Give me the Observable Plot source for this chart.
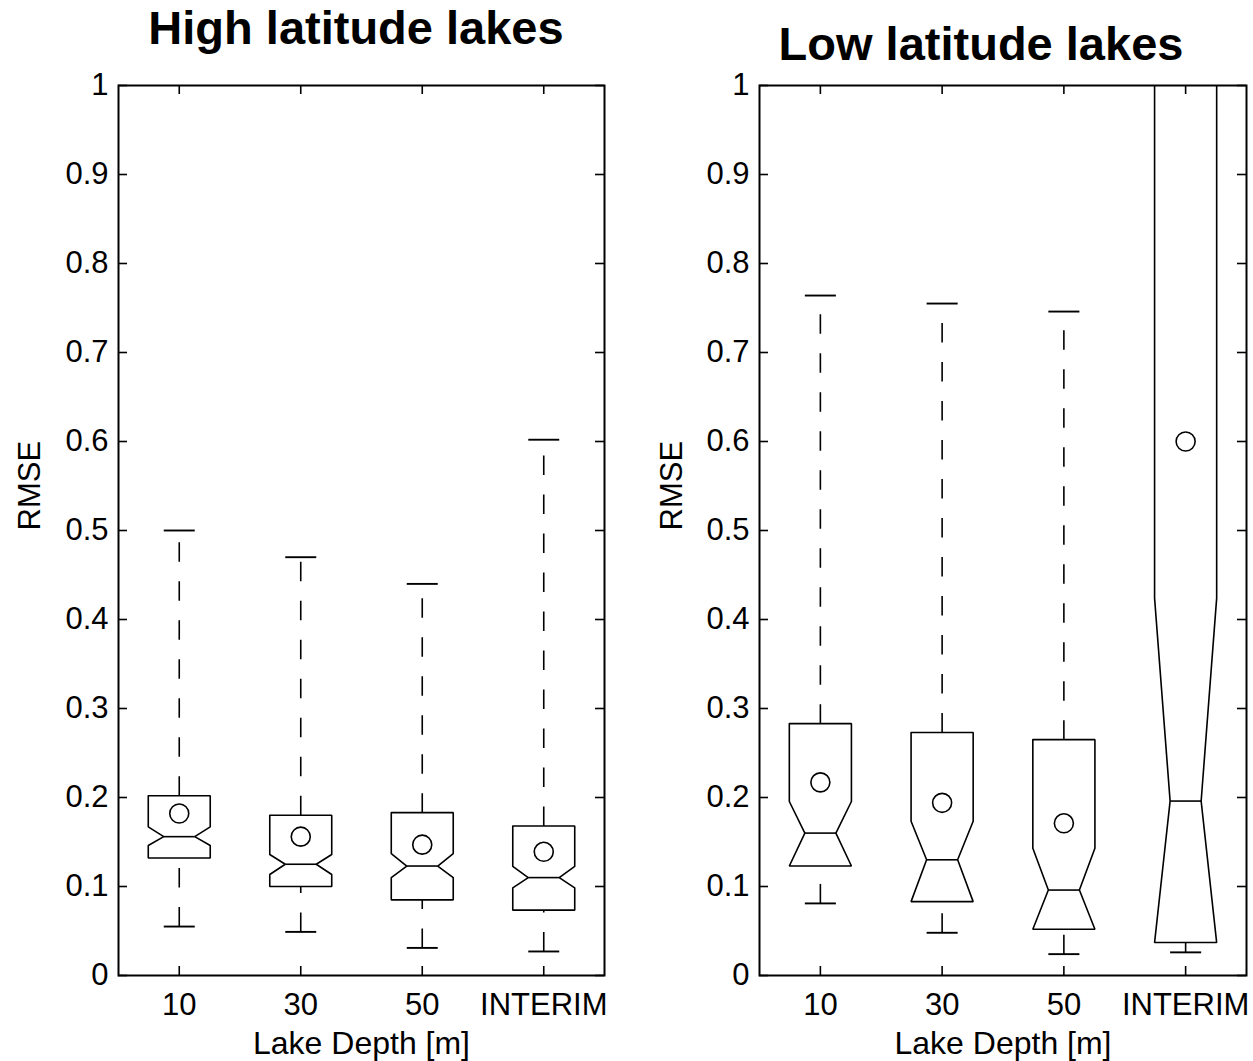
<!DOCTYPE html>
<html>
<head>
<meta charset="utf-8">
<script src="https://cdn.jsdelivr.net/npm/d3@7"></script>
<script src="https://cdn.jsdelivr.net/npm/@observablehq/plot@0.6"></script>
<style>
  body { margin: 0; background: #fff; }
  #wrap { position: relative; width: 1253px; height: 1061px; overflow: hidden; background: #fff;
          font-family: "Liberation Sans", Arial, Helvetica, sans-serif; }
  .panel { position: absolute; top: 0; }
  .title { position: absolute; font-weight: bold; font-size: 47px; line-height: 1; white-space: nowrap;
           transform: translateX(-50%); color: #000; }
</style>
</head>
<body>
<div id="wrap"></div>
<script>
// ---------- data ----------
const categories = ["10", "30", "50", "INTERIM"];
const yTicks = [0, 0.1, 0.2, 0.3, 0.4, 0.5, 0.6, 0.7, 0.8, 0.9, 1];
const yTickLabels = ["0", "0.1", "0.2", "0.3", "0.4", "0.5", "0.6", "0.7", "0.8", "0.9", "1"];
const titles = ["High latitude lakes", "Low latitude lakes"];
const yLabel = "RMSE";
const xLabel = "Lake Depth [m]";

// High latitude lakes
const hiUpper   = [0.500, 0.470, 0.440, 0.602];
const hiQ3      = [0.202, 0.180, 0.183, 0.168];
const hiNotchHi = [0.167, 0.136, 0.137, 0.1225];
const hiMedian  = [0.156, 0.125, 0.123, 0.110];
const hiNotchLo = [0.146, 0.1135, 0.110, 0.0985];
const hiQ1      = [0.132, 0.100, 0.085, 0.0734];
const hiLower   = [0.055, 0.049, 0.031, 0.027];
const hiMean    = [0.182, 0.156, 0.147, 0.139];

// Low latitude lakes
const loUpper   = [0.764, 0.755, 0.746, 1.50];
const loQ3      = [0.283, 0.273, 0.265, 1.05];
const loNotchHi = [0.1955, 0.1734, 0.143, 0.424];
const loMedian  = [0.160, 0.130, 0.096, 0.196];
const loNotchLo = [0.123, 0.083, 0.052, 0.037];
const loQ1      = [0.123, 0.083, 0.052, 0.037];
const loLower   = [0.081, 0.048, 0.024, 0.026];
const loMean    = [0.217, 0.194, 0.171, 0.600];

// ---------- drawing ----------
const FONT = "'Liberation Sans', Arial, Helvetica, sans-serif";
const HW = 0.255;     // box half width (category units)
const NW = HW / 2;    // notch half width
const SW = 1.6;
const TICK = 9;

function makeRows(upper, q3, nHi, med, nLo, q1, lower, mean) {
  return categories.map((c, i) => ({
    cat: c, cx: i + 0.5, upper: upper[i], q3: q3[i], nHi: nHi[i], med: med[i],
    nLo: nLo[i], q1: q1[i], lower: lower[i], mean: mean[i]
  }));
}

function panel(rows, o) {
  const plotW = o.width - o.marginLeft - o.marginRight;
  const plotH = o.height - o.marginTop - o.marginBottom;
  const xPos = categories.map((c, i) => i + 0.5);
  const outline = rows.flatMap((r, k) => [
    [r.cx - HW, r.q3], [r.cx + HW, r.q3], [r.cx + HW, r.nHi], [r.cx + NW, r.med],
    [r.cx + HW, r.nLo], [r.cx + HW, r.q1], [r.cx - HW, r.q1], [r.cx - HW, r.nLo],
    [r.cx - NW, r.med], [r.cx - HW, r.nHi], [r.cx - HW, r.q3]
  ].map(([x, y]) => ({x, y, k})));

  return Plot.plot({
    width: o.width, height: o.height,
    marginLeft: o.marginLeft, marginRight: o.marginRight,
    marginTop: o.marginTop, marginBottom: o.marginBottom,
    style: {fontFamily: FONT, fontSize: "31px", color: "#000", background: "#fff", overflow: "visible"},
    x: {type: "linear", domain: [0, 4]},
    y: {type: "linear", domain: [0, 1]},
    marks: [
      // axes labels
      Plot.axisY({ticks: yTicks, tickFormat: d => yTickLabels[yTicks.indexOf(d)], tickSize: 0,
                  tickPadding: 10, fontSize: 31, label: null}),
      Plot.axisX({ticks: xPos, tickFormat: d => categories[xPos.indexOf(d)], tickSize: 0,
                  tickPadding: 17, fontSize: 31, label: null}),
      // inward ticks on all four sides
      Plot.tickY(yTicks, {y: d => d, insetRight: plotW - TICK, strokeWidth: 1.6}),
      Plot.tickY(yTicks, {y: d => d, insetLeft: plotW - TICK, strokeWidth: 1.6}),
      Plot.tickX(xPos, {x: d => d, insetTop: plotH - TICK, strokeWidth: 1.6}),
      Plot.tickX(xPos, {x: d => d, insetBottom: plotH - TICK, strokeWidth: 1.6}),
      // whiskers (dashed)
      Plot.link(rows, {x1: "cx", x2: "cx", y1: "q3", y2: "upper", stroke: "#000", strokeWidth: SW,
                       strokeDasharray: "19.5,19.5", clip: true}),
      Plot.link(rows, {x1: "cx", x2: "cx", y1: "lower", y2: "q1", stroke: "#000", strokeWidth: SW,
                       strokeDasharray: "19.5,19.5", clip: true}),
      // whisker caps
      Plot.link(rows, {x1: r => r.cx - NW, x2: r => r.cx + NW, y1: "upper", y2: "upper",
                       stroke: "#000", strokeWidth: SW + 0.3, clip: true}),
      Plot.link(rows, {x1: r => r.cx - NW, x2: r => r.cx + NW, y1: "lower", y2: "lower",
                       stroke: "#000", strokeWidth: SW + 0.3, clip: true}),
      // notched boxes
      Plot.line(outline, {x: "x", y: "y", z: "k", stroke: "#000", strokeWidth: SW, fill: "none",
                          strokeLinejoin: "miter", clip: true}),
      // median lines
      Plot.link(rows, {x1: r => r.cx - NW, x2: r => r.cx + NW, y1: "med", y2: "med",
                       stroke: "#000", strokeWidth: SW, clip: true}),
      // means
      Plot.dot(rows, {x: "cx", y: "mean", r: 9.5, stroke: "#000", strokeWidth: SW, fill: "none", clip: true}),
      // axis titles
      Plot.text([yLabel], {frameAnchor: "left", dx: o.yLabelDx, rotate: -90, fontSize: 31, fill: "#000"}),
      Plot.text([xLabel], {frameAnchor: "bottom", dy: 78, fontSize: 32, fill: "#000"}),
      Plot.frame({stroke: "#000", strokeWidth: 2})
    ]
  });
}

const wrap = document.getElementById("wrap");

const left = panel(makeRows(hiUpper, hiQ3, hiNotchHi, hiMedian, hiNotchLo, hiQ1, hiLower, hiMean),
  {width: 626, height: 1061, marginLeft: 118, marginRight: 22, marginTop: 85, marginBottom: 86, yLabelDx: -88});
left.classList.add("panel");
left.style.left = "0px";
wrap.appendChild(left);

const right = panel(makeRows(loUpper, loQ3, loNotchHi, loMedian, loNotchLo, loQ1, loLower, loMean),
  {width: 627, height: 1061, marginLeft: 133, marginRight: 7, marginTop: 85, marginBottom: 86, yLabelDx: -87});
right.classList.add("panel");
right.style.left = "626px";
wrap.appendChild(right);

// titles
const t1 = document.createElement("div");
t1.className = "title"; t1.textContent = titles[0];
t1.style.left = "356px"; t1.style.top = "4px";
wrap.appendChild(t1);
const t2 = document.createElement("div");
t2.className = "title"; t2.textContent = titles[1];
t2.style.left = "981px"; t2.style.top = "20px";
wrap.appendChild(t2);
</script>
</body>
</html>
